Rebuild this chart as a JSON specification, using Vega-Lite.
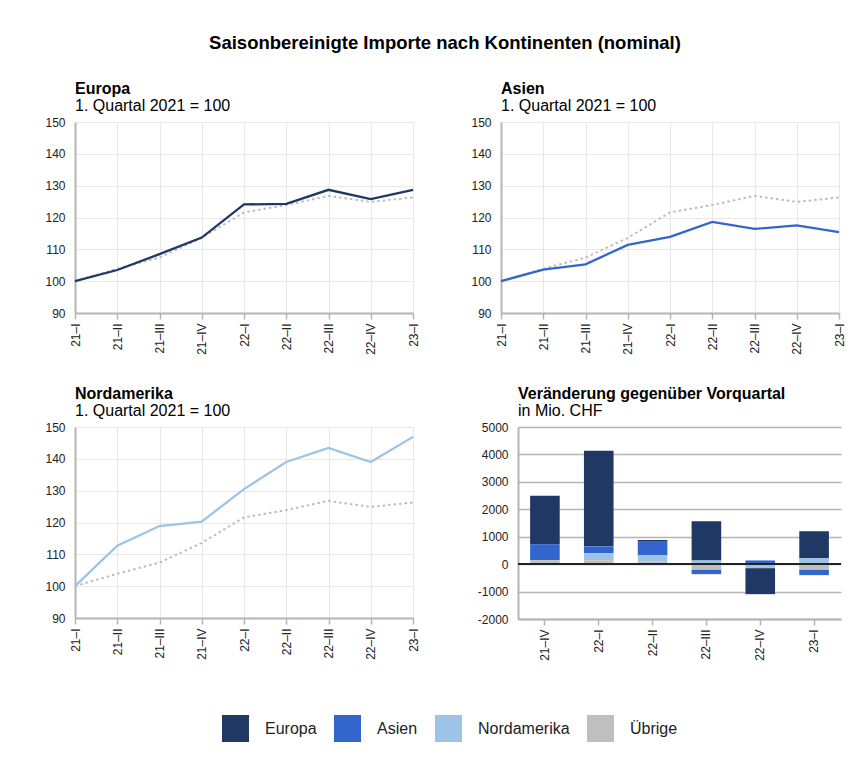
{
  "$schema": "https://vega.github.io/schema/vega-lite/v6.json",
  "background": "white",
  "padding": {"left": 44, "top": 33, "right": 5, "bottom": 5},
  "title": {"text": "Saisonbereinigte Importe nach Kontinenten (nominal)", "fontSize": 18.5, "fontWeight": "bold", "anchor": "middle", "frame": "bounds", "offset": 29, "color": "#000"},
  "config": {
    "font": "Liberation Sans",
    "view": {"stroke": null},
    "axis": {"labelFont": "Liberation Sans", "labelFontSize": 12, "labelColor": "#222", "domainColor": "#b4b4b4", "domainWidth": 2, "tickColor": "#b4b4b4", "tickWidth": 1.5, "gridColor": "#e8e8e8", "title": null, "labelOverlap": false},
    "title": {"font": "Liberation Sans", "fontSize": 16, "subtitleFont": "Liberation Sans", "subtitleFontSize": 16, "subtitleColor": "#000", "color": "#000", "anchor": "start", "frame": "group", "subtitlePadding": 1, "offset": 2},
    "legend": {"labelFont": "Liberation Sans"}
  },
  "datasets": {
    "index": [
      {"q": "21–I", "region": "Europa", "value": 100},
      {"q": "21–II", "region": "Europa", "value": 103.5},
      {"q": "21–III", "region": "Europa", "value": 108.5},
      {"q": "21–IV", "region": "Europa", "value": 113.7},
      {"q": "22–I", "region": "Europa", "value": 124.1},
      {"q": "22–II", "region": "Europa", "value": 124.3},
      {"q": "22–III", "region": "Europa", "value": 128.7},
      {"q": "22–IV", "region": "Europa", "value": 125.8},
      {"q": "23–I", "region": "Europa", "value": 128.7},
      {"q": "21–I", "region": "Asien", "value": 100},
      {"q": "21–II", "region": "Asien", "value": 103.6},
      {"q": "21–III", "region": "Asien", "value": 105.3},
      {"q": "21–IV", "region": "Asien", "value": 111.4},
      {"q": "22–I", "region": "Asien", "value": 113.9},
      {"q": "22–II", "region": "Asien", "value": 118.6},
      {"q": "22–III", "region": "Asien", "value": 116.4},
      {"q": "22–IV", "region": "Asien", "value": 117.5},
      {"q": "23–I", "region": "Asien", "value": 115.4},
      {"q": "21–I", "region": "Nordamerika", "value": 100},
      {"q": "21–II", "region": "Nordamerika", "value": 112.7},
      {"q": "21–III", "region": "Nordamerika", "value": 118.9},
      {"q": "21–IV", "region": "Nordamerika", "value": 120.3},
      {"q": "22–I", "region": "Nordamerika", "value": 130.5},
      {"q": "22–II", "region": "Nordamerika", "value": 139.0},
      {"q": "22–III", "region": "Nordamerika", "value": 143.4},
      {"q": "22–IV", "region": "Nordamerika", "value": 139.0},
      {"q": "23–I", "region": "Nordamerika", "value": 146.9},
      {"q": "21–I", "region": "Total", "value": 100},
      {"q": "21–II", "region": "Total", "value": 103.9},
      {"q": "21–III", "region": "Total", "value": 107.4},
      {"q": "21–IV", "region": "Total", "value": 113.6},
      {"q": "22–I", "region": "Total", "value": 121.6},
      {"q": "22–II", "region": "Total", "value": 123.9},
      {"q": "22–III", "region": "Total", "value": 126.8},
      {"q": "22–IV", "region": "Total", "value": 124.9},
      {"q": "23–I", "region": "Total", "value": 126.3}
    ],
    "change": [
      {"q": "21–IV", "region": "Europa", "value": 1760},
      {"q": "21–IV", "region": "Asien", "value": 585},
      {"q": "21–IV", "region": "Nordamerika", "value": 0},
      {"q": "21–IV", "region": "Übrige", "value": 145},
      {"q": "22–I", "region": "Europa", "value": 3480},
      {"q": "22–I", "region": "Asien", "value": 255},
      {"q": "22–I", "region": "Nordamerika", "value": 255},
      {"q": "22–I", "region": "Übrige", "value": 140},
      {"q": "22–II", "region": "Europa", "value": 40},
      {"q": "22–II", "region": "Asien", "value": 510},
      {"q": "22–II", "region": "Nordamerika", "value": 220},
      {"q": "22–II", "region": "Übrige", "value": 110},
      {"q": "22–III", "region": "Europa", "value": 1430},
      {"q": "22–III", "region": "Asien", "value": -170},
      {"q": "22–III", "region": "Nordamerika", "value": 135},
      {"q": "22–III", "region": "Übrige", "value": -195},
      {"q": "22–IV", "region": "Europa", "value": -950},
      {"q": "22–IV", "region": "Asien", "value": 135},
      {"q": "22–IV", "region": "Nordamerika", "value": -145},
      {"q": "22–IV", "region": "Übrige", "value": 0},
      {"q": "23–I", "region": "Europa", "value": 990},
      {"q": "23–I", "region": "Asien", "value": -205},
      {"q": "23–I", "region": "Nordamerika", "value": 210},
      {"q": "23–I", "region": "Übrige", "value": -195}
    ]
  },
  "spacing": 31,
  "vconcat": [
    {
      "spacing": 51,
      "hconcat": [
        {
          "width": 338, "height": 191,
          "title": {"text": "Europa", "subtitle": "1. Quartal 2021 = 100"},
          "data": {"name": "index"},
          "encoding": {
            "x": {"field": "q", "type": "ordinal", "sort": null, "scale": {"type": "point", "padding": 0}, "axis": {"labelAngle": -90, "grid": true, "tickSize": 6, "labelPadding": 4}},
            "y": {"field": "value", "type": "quantitative", "scale": {"domain": [90, 150], "nice": false, "zero": false}, "axis": {"values": [90, 100, 110, 120, 130, 140, 150], "ticks": false, "labelPadding": 10}}
          },
          "layer": [
            {"transform": [{"filter": "datum.region === 'Total'"}], "mark": {"type": "line", "color": "#bdbdbd", "strokeWidth": 2, "strokeDash": [2.5, 3]}},
            {"transform": [{"filter": "datum.region === 'Europa'"}], "mark": {"type": "line", "color": "#203864", "strokeWidth": 2.3}}
          ]
        },
        {
          "width": 338, "height": 191,
          "title": {"text": "Asien", "subtitle": "1. Quartal 2021 = 100"},
          "data": {"name": "index"},
          "encoding": {
            "x": {"field": "q", "type": "ordinal", "sort": null, "scale": {"type": "point", "padding": 0}, "axis": {"labelAngle": -90, "grid": true, "tickSize": 6, "labelPadding": 4}},
            "y": {"field": "value", "type": "quantitative", "scale": {"domain": [90, 150], "nice": false, "zero": false}, "axis": {"values": [90, 100, 110, 120, 130, 140, 150], "ticks": false, "labelPadding": 10}}
          },
          "layer": [
            {"transform": [{"filter": "datum.region === 'Total'"}], "mark": {"type": "line", "color": "#bdbdbd", "strokeWidth": 2, "strokeDash": [2.5, 3]}},
            {"transform": [{"filter": "datum.region === 'Asien'"}], "mark": {"type": "line", "color": "#3366cc", "strokeWidth": 2.3}}
          ]
        }
      ]
    },
    {
      "spacing": 58,
      "hconcat": [
        {
          "width": 338, "height": 191,
          "title": {"text": "Nordamerika", "subtitle": "1. Quartal 2021 = 100"},
          "data": {"name": "index"},
          "encoding": {
            "x": {"field": "q", "type": "ordinal", "sort": null, "scale": {"type": "point", "padding": 0}, "axis": {"labelAngle": -90, "grid": true, "tickSize": 6, "labelPadding": 4}},
            "y": {"field": "value", "type": "quantitative", "scale": {"domain": [90, 150], "nice": false, "zero": false}, "axis": {"values": [90, 100, 110, 120, 130, 140, 150], "ticks": false, "labelPadding": 10}}
          },
          "layer": [
            {"transform": [{"filter": "datum.region === 'Total'"}], "mark": {"type": "line", "color": "#bdbdbd", "strokeWidth": 2, "strokeDash": [2.5, 3]}},
            {"transform": [{"filter": "datum.region === 'Nordamerika'"}], "mark": {"type": "line", "color": "#9dc3e6", "strokeWidth": 2.3}}
          ]
        },
        {
          "width": 323, "height": 192,
          "title": {"text": "Veränderung gegenüber Vorquartal", "subtitle": "in Mio. CHF"},
          "data": {"name": "change"},
          "layer": [
            {
              "transform": [{"calculate": "indexof(['Übrige', 'Nordamerika', 'Asien', 'Europa'], datum.region)", "as": "stackOrder"}],
              "mark": {"type": "bar"},
              "encoding": {
                "x": {"field": "q", "type": "ordinal", "sort": null, "scale": {"paddingInner": 0.45, "paddingOuter": 0.225}, "axis": {"labelAngle": -90, "grid": false, "tickSize": 6, "labelPadding": 4}},
                "y": {"field": "value", "type": "quantitative", "scale": {"domain": [-2000, 5000], "nice": false}, "axis": {"values": [-2000, -1000, 0, 1000, 2000, 3000, 4000, 5000], "tickCount": 8, "labelExpr": "'' + datum.value", "ticks": false, "labelPadding": 10, "gridColor": "#b4b4b4", "gridWidth": 1.5}},
                "order": {"field": "stackOrder", "type": "quantitative", "sort": "ascending"},
                "color": {"field": "region", "type": "nominal", "sort": ["Europa", "Asien", "Nordamerika", "Übrige"], "scale": {"domain": ["Europa", "Asien", "Nordamerika", "Übrige"], "range": ["#203864", "#3366cc", "#9dc3e6", "#bfbfbf"]},
                  "legend": {"orient": "none", "direction": "horizontal", "legendX": 147, "legendY": 593, "title": null, "symbolType": "square", "symbolSize": 729, "symbolStrokeWidth": 0, "symbolOpacity": 1, "labelFontSize": 16, "labelColor": "#222", "labelOffset": 16, "columnPadding": 17}}
              }
            },
            {"mark": {"type": "rule", "color": "#222", "strokeWidth": 1.5}, "encoding": {"y": {"datum": 0, "type": "quantitative", "axis": {"values": [-2000, -1000, 0, 1000, 2000, 3000, 4000, 5000], "tickCount": 8, "labelExpr": "'' + datum.value", "ticks": false, "labelPadding": 10, "gridColor": "#b4b4b4", "gridWidth": 1.5}}}}
          ]
        }
      ]
    }
  ]
}
